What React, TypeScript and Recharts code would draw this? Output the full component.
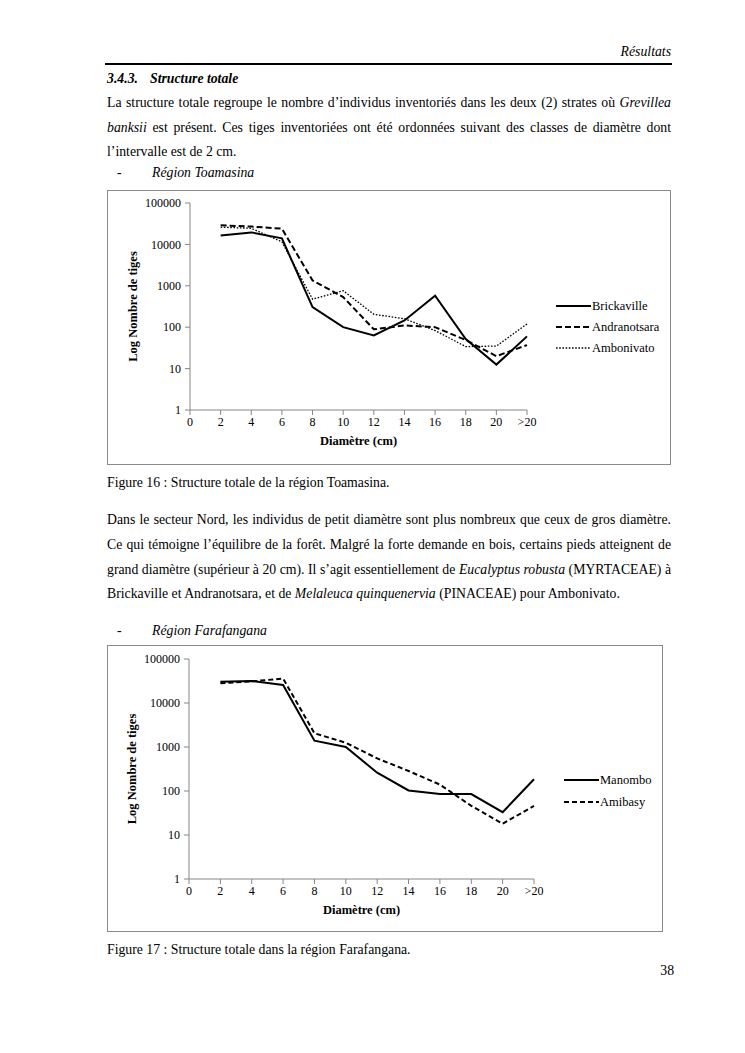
import React from "react";
import { LineChart, Line, XAxis, YAxis, Label } from "recharts";

// ---------- DATA ----------
const classes = ["0", "2", "4", "6", "8", "10", "12", "14", "16", "18", "20", ">20"];
const yTicks = [1, 10, 100, 1000, 10000, 100000];

// Région Toamasina (first class "0" is empty)
const brickaville = [null, 16500, 19500, 14000, 305, 100, 63, 145, 575, 52, 12.5, 60];
const andranotsara = [null, 29000, 27000, 24000, 1350, 535, 89, 110, 100, 49, 20, 37];
const ambonivato = [null, 26000, 24500, 11500, 475, 760, 205, 160, 83, 34, 35, 120];

// Région Farafangana
const manombo = [null, 30500, 31500, 25700, 1390, 1000, 260, 103, 85, 85, 33, 185];
const amibasy = [null, 28000, 31000, 36000, 2050, 1250, 550, 285, 140, 46, 18, 46];

const FONT = "'Liberation Serif', 'Times New Roman', serif";

type Serie = { key: string; name: string; values: (number | null)[]; dash?: string; width: number };

const toamasinaSeries: Serie[] = [
  { key: "b", name: "Brickaville", values: brickaville, width: 2 },
  { key: "a", name: "Andranotsara", values: andranotsara, dash: "6 3", width: 2 },
  { key: "m", name: "Ambonivato", values: ambonivato, dash: "1.6 1.6", width: 1.3 },
];
const farafanganaSeries: Serie[] = [
  { key: "mn", name: "Manombo", values: manombo, width: 2 },
  { key: "am", name: "Amibasy", values: amibasy, dash: "5 3", width: 2 },
];

function buildData(series: Serie[]) {
  return classes.map((c, i) => {
    const row: Record<string, any> = { cls: c };
    series.forEach((s) => {
      row[s.key] = s.values[i];
    });
    return row;
  });
}

type ChartProps = {
  series: Serie[];
  left: number;
  top: number;
  width: number;
  height: number;
  margin: { top: number; right: number; bottom: number; left: number };
  legendLeft: number;
  legendTop: number;
  legendRow: number;
};

function LogChart(p: ChartProps) {
  const data = buildData(p.series);
  const axisColor = "#868686";
  const yLabel = (props: any) => {
    const vb = props.viewBox;
    const cx = vb.x + 3;
    const cy = vb.y + vb.height / 2;
    return (
      <text
        x={cx}
        y={cy}
        transform={`rotate(-90 ${cx} ${cy})`}
        textAnchor="middle"
        dominantBaseline="central"
        fontFamily={FONT}
        fontWeight="bold"
        fontSize={12.5}
        fill="#000"
      >
        Log Nombre de tiges
      </text>
    );
  };
  const xLabel = (props: any) => {
    const vb = props.viewBox;
    return (
      <text
        x={vb.x + vb.width / 2}
        y={vb.y + 31}
        textAnchor="middle"
        dominantBaseline="central"
        fontFamily={FONT}
        fontWeight="bold"
        fontSize={12.5}
        fill="#000"
      >
        Diamètre (cm)
      </text>
    );
  };
  return (
    <>
      <div
        style={{
          position: "absolute",
          left: p.left,
          top: p.top,
          width: p.width,
          height: p.height,
          border: "1px solid #8a8a8a",
          boxSizing: "border-box",
        }}
      />
      <div style={{ position: "absolute", left: p.left, top: p.top }}>
        <LineChart width={p.width} height={p.height} data={data} margin={p.margin}>
          <XAxis
            dataKey="cls"
            type="category"
            interval={0}
            stroke={axisColor}
            tickSize={5}
            tickMargin={2}
            tick={{ fill: "#000", fontFamily: FONT, fontSize: 12 }}
            height={30}
          >
            <Label content={xLabel} />
          </XAxis>
          <YAxis
            scale="log"
            type="number"
            domain={[1, 100000]}
            ticks={yTicks}
            allowDataOverflow
            interval={0}
            stroke={axisColor}
            tickSize={5}
            tickMargin={4}
            width={60}
            tick={{ fill: "#000", fontFamily: FONT, fontSize: 12 }}
          >
            <Label content={yLabel} />
          </YAxis>
          {p.series.map((s) => (
            <Line
              key={s.key}
              dataKey={s.key}
              name={s.name}
              stroke="#000"
              strokeWidth={s.width}
              strokeDasharray={s.dash}
              dot={false}
              activeDot={false}
              isAnimationActive={false}
              connectNulls={false}
              type="linear"
            />
          ))}
        </LineChart>
      </div>
      <div
        style={{
          position: "absolute",
          left: p.left + p.legendLeft,
          top: p.top + p.legendTop,
          fontFamily: FONT,
          fontSize: 12.5,
          color: "#000",
        }}
      >
        {p.series.map((s) => (
          <div key={s.key} style={{ height: p.legendRow, display: "flex", alignItems: "center" }}>
            <svg width={36} height={10} style={{ display: "block" }}>
              <line x1={0} y1={5} x2={35} y2={5} stroke="#000" strokeWidth={s.width} strokeDasharray={s.dash} />
            </svg>
            <span style={{ lineHeight: "14px", whiteSpace: "nowrap" }}>{s.name}</span>
          </div>
        ))}
      </div>
    </>
  );
}

const textBase: React.CSSProperties = {
  position: "absolute",
  fontFamily: FONT,
  fontSize: 13.75,
  lineHeight: "18px",
  color: "#000",
  whiteSpace: "nowrap",
};

function Line1({ top, children, justify = true }: { top: number; children: React.ReactNode; justify?: boolean }) {
  return (
    <div
      style={{
        ...textBase,
        left: 107,
        top,
        width: 564,
        textAlign: justify ? "justify" : "left",
        textAlignLast: justify ? "justify" : "left",
        whiteSpace: "normal",
      }}
    >
      {children}
    </div>
  );
}

export default function App() {
  return (
    <div style={{ position: "absolute", left: 0, top: 0, width: 745, height: 1053, background: "#fff" }}>
      <div style={{ ...textBase, right: 745 - 671, top: 43, fontStyle: "italic" }}>Résultats</div>
      <div style={{ position: "absolute", left: 105, top: 63, width: 567, height: 1.5, background: "#000" }} />
      <div style={{ ...textBase, left: 107, top: 70, fontStyle: "italic", fontWeight: "bold" }}>3.4.3.</div>
      <div style={{ ...textBase, left: 150, top: 70, fontStyle: "italic", fontWeight: "bold" }}>Structure totale</div>

      <Line1 top={94}>
        La structure totale regroupe le nombre d’individus inventoriés dans les deux (2) strates où <i>Grevillea</i>
      </Line1>
      <Line1 top={119}>
        <i>banksii</i> est présent. Ces tiges inventoriées ont été ordonnées suivant des classes de diamètre dont
      </Line1>
      <Line1 top={143} justify={false}>
        l’intervalle est de 2 cm.
      </Line1>
      <div style={{ ...textBase, left: 117, top: 164 }}>-</div>
      <div style={{ ...textBase, left: 152, top: 164, fontStyle: "italic" }}>Région Toamasina</div>

      <LogChart
        series={toamasinaSeries}
        left={107}
        top={190}
        width={564}
        height={275}
        margin={{ top: 13, right: 144, bottom: 25, left: 23 }}
        legendLeft={449}
        legendTop={106}
        legendRow={20.7}
      />

      <div style={{ ...textBase, left: 107, top: 474 }}>Figure 16 : Structure totale de la région Toamasina.</div>

      <Line1 top={511}>
        Dans le secteur Nord, les individus de petit diamètre sont plus nombreux que ceux de gros diamètre.
      </Line1>
      <Line1 top={536}>
        Ce qui témoigne l’équilibre de la forêt. Malgré la forte demande en bois, certains pieds atteignent de
      </Line1>
      <Line1 top={561}>
        grand diamètre (supérieur à 20 cm). Il s’agit essentiellement de <i>Eucalyptus robusta</i> (MYRTACEAE) à
      </Line1>
      <Line1 top={585} justify={false}>
        Brickaville et Andranotsara, et de <i>Melaleuca quinquenervia</i> (PINACEAE) pour Ambonivato.
      </Line1>
      <div style={{ ...textBase, left: 117, top: 622 }}>-</div>
      <div style={{ ...textBase, left: 152, top: 622, fontStyle: "italic" }}>Région Farafangana</div>

      <LogChart
        series={farafanganaSeries}
        left={107}
        top={645}
        width={556}
        height={287}
        margin={{ top: 14, right: 129, bottom: 23, left: 22 }}
        legendLeft={457}
        legendTop={124}
        legendRow={21.7}
      />

      <div style={{ ...textBase, left: 107, top: 941 }}>Figure 17 : Structure totale dans la région Farafangana.</div>
      <div style={{ ...textBase, right: 745 - 674, top: 962 }}>38</div>
    </div>
  );
}
